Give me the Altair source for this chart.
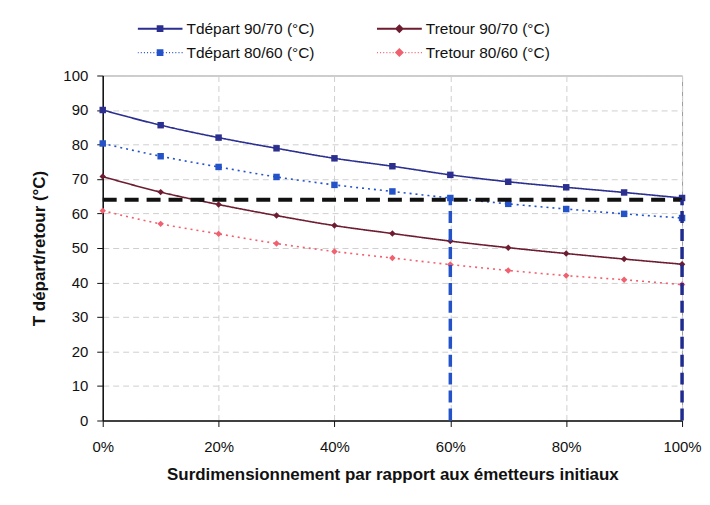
import altair as alt
import pandas as pd

# ---- data ----
x_pct = [0, 10, 20, 30, 40, 50, 60, 70, 80, 90, 100]
t_dep_9070 = [90.0, 85.6, 82.0, 78.9, 76.0, 73.7, 71.2, 69.2, 67.6, 66.1, 64.5]
t_ret_9070 = [70.7, 66.2, 62.6, 59.4, 56.5, 54.2, 52.0, 50.1, 48.4, 46.8, 45.3]
t_dep_8060 = [80.3, 76.6, 73.5, 70.6, 68.3, 66.4, 64.5, 62.8, 61.3, 59.9, 58.7]
t_ret_8060 = [60.8, 57.0, 54.1, 51.3, 49.0, 47.1, 45.2, 43.5, 42.0, 40.8, 39.4]

# order: column 1 = Tdépart, column 2 = Tretour (legend fills column by column)
series_names = ["Tdépart 90/70 (°C)", "Tdépart 80/60 (°C)",
                "Tretour 90/70 (°C)", "Tretour 80/60 (°C)"]
series_values = [t_dep_9070, t_dep_8060, t_ret_9070, t_ret_8060]
series_colors = ["#2b2f8f", "#2452c8", "#6e1c30", "#f0606e"]
series_dash = [[1, 0], [2, 4], [1, 0], [2, 4]]
series_shapes = ["square", "square", "diamond", "diamond"]

ref_level = 64
vline_x = [60, 100]
vline_colors = ["#2452c8", "#1f2b8f"]

y_ticks = [0, 10, 20, 30, 40, 50, 60, 70, 80, 90, 100]
x_ticks = [0, 20, 40, 60, 80, 100]

rows = []
for name, vals in zip(series_names, series_values):
    for xv, yv in zip(x_pct, vals):
        rows.append({"x": xv, "y": yv, "series": name})
df = pd.DataFrame(rows)

hline_df = pd.DataFrame({"x": [0], "x2": [100], "y": [ref_level]})
vline_df = pd.DataFrame({"x": vline_x, "y": [0, 0], "y2": [ref_level, ref_level],
                         "c": ["a", "b"]})


# legend symbols: a line segment (solid or dotted) with the marker in the middle
def seg_path(dotted):
    if not dotted:
        return "M-1,-0.045H1V0.045H-1Z"
    parts = []
    xx = -1.0
    while xx < 1.0:
        parts.append(f"M{xx:.3f},-0.03h0.045v0.06h-0.045Z")
        xx += 0.14
    return " ".join(parts)


marker_square = "M-0.15,-0.15H0.15V0.15H-0.15Z"
marker_diamond = "M0,-0.2L0.2,0L0,0.2L-0.2,0Z"
legend_paths = [
    seg_path(False) + " " + marker_square,
    seg_path(True) + " " + marker_square,
    seg_path(False) + " " + marker_diamond,
    seg_path(True) + " " + marker_diamond,
]

FONT = "Liberation Sans"


def x_enc():
    return alt.X("x:Q", scale=alt.Scale(domain=[0, 100], nice=False),
                 axis=alt.Axis(values=x_ticks, labelExpr="datum.value + '%'",
                               labelFlush=False,
                               title="Surdimensionnement par rapport aux émetteurs initiaux"))


def y_enc(field="y:Q"):
    return alt.Y(field, scale=alt.Scale(domain=[0, 100], nice=False),
                 axis=alt.Axis(values=y_ticks, title="T départ/retour (°C)"))


color_scale = alt.Scale(domain=series_names, range=series_colors)

lines = alt.Chart(df).mark_line(interpolate="monotone", strokeWidth=1.6).encode(
    x=x_enc(), y=y_enc(),
    color=alt.Color("series:N", scale=color_scale, legend=None),
    strokeDash=alt.StrokeDash("series:N",
                              scale=alt.Scale(domain=series_names, range=series_dash),
                              legend=None),
)

points = alt.Chart(df).mark_point(filled=True, size=42, opacity=1).encode(
    x=x_enc(), y=y_enc(),
    color=alt.Color("series:N", scale=color_scale, legend=None),
    shape=alt.Shape("series:N",
                    scale=alt.Scale(domain=series_names, range=series_shapes),
                    legend=None),
)

leg = alt.Legend(title=None, orient="none", legendX=35, legendY=-56, columns=2,
                 columnPadding=62, rowPadding=6, symbolSize=2025, clipHeight=18,
                 labelFontSize=15.5, labelFont=FONT, labelColor="#111",
                 symbolOpacity=1, symbolStrokeWidth=0, labelOffset=4)

legend_layer = alt.Chart(df).mark_point(filled=True, opacity=0).encode(
    x=x_enc(), y=y_enc(),
    color=alt.Color("series:N", scale=color_scale, legend=leg),
    shape=alt.Shape("series:N",
                    scale=alt.Scale(domain=series_names, range=legend_paths),
                    legend=leg),
)

hline = alt.Chart(hline_df).mark_rule(color="#111111", strokeWidth=4,
                                      strokeDash=[14, 8]).encode(
    x=x_enc(), x2="x2:Q", y=y_enc())

vlines = alt.Chart(vline_df).mark_rule(strokeWidth=3.5, strokeDash=[12, 6]).encode(
    x=x_enc(), y=y_enc(), y2="y2:Q",
    color=alt.Color("c:N", scale=alt.Scale(domain=["a", "b"], range=vline_colors),
                    legend=None),
)

chart = alt.layer(lines, points, legend_layer, hline, vlines).resolve_scale(
    shape="independent", color="independent", strokeDash="independent"
).properties(
    width=581, height=346,
    autosize=alt.AutoSizeParams(type="none"),
    padding={"left": 95, "top": 67, "right": 20, "bottom": 76},
).configure_view(
    stroke="#9a9a9a", strokeWidth=1
).configure_axis(
    labelFont=FONT, titleFont=FONT, labelFontSize=15, titleFontSize=17,
    labelColor="#111", titleColor="#111", domainColor="#111", tickColor="#111",
    domainWidth=1.5, tickSize=6, gridColor="#cfcfcf", gridDash=[6, 4],
    gridWidth=1, titleFontWeight="bold",
).configure_axisX(
    labelPadding=13, titlePadding=12,
).configure_axisY(
    labelPadding=9, titlePadding=14,
)

chart.save("out.html", embed_options={"renderer": "svg", "actions": False})
